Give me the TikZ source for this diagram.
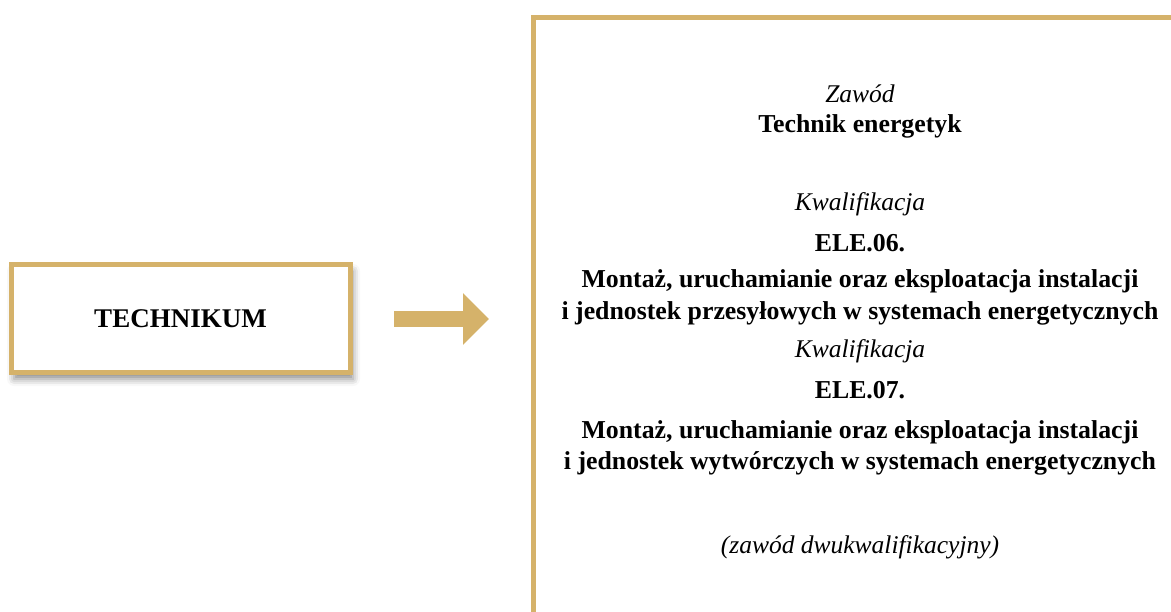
\documentclass[tikz,border=0pt]{standalone}
\usepackage{fontspec}
\setmainfont{Liberation Serif}
\usetikzlibrary{arrows.meta,shadows.blur}
\definecolor{gold}{RGB}{213,178,106}

\begin{document}
\begin{tikzpicture}[x=1pt,y=-1pt,
    ramka/.style={draw=gold,line width=5pt,fill=white,inner sep=0pt},
    kursywa/.style={font=\fontsize{25.5}{30}\selectfont\itshape,anchor=base},
    gruby/.style={font=\fontsize{25.8}{31}\selectfont\bfseries,anchor=base}]
        \useasboundingbox (0,0) rectangle (1171,612);
        \clip (0,0) rectangle (1171,612);

        \coordinate (t) at (180.5,319);
        \coordinate (p) at (533.5,17.5);
        \coordinate (a1) at (394,319);
        \coordinate (a2) at (489,319);

        \node[ramka,minimum width=339pt,minimum height=108pt,font=\fontsize{27}{32}\selectfont\bfseries,
              blur shadow={shadow xshift=3pt,shadow yshift=-6pt,shadow blur radius=7pt,shadow opacity=45}] (tech) at (t) {TECHNIKUM};
        \node[ramka,outer sep=0pt,anchor=north west,minimum width=700pt,minimum height=650pt] (info) at (p) {};

        \draw[gold,line width=16pt,-{Triangle[length=26pt,width=50pt]}] (a1) -- (a2);

        \node[kursywa] (zawod) at (860,103) {Zawód};
        \node[gruby] (technik) at (860,133) {Technik energetyk};
        \node[kursywa] (kwal6) at (860,211) {Kwalifikacja};
        \node[gruby] (ele6) at (860,252) {ELE.06.};
        \node[gruby] (montaz6) at (860,288) {Montaż, uruchamianie oraz eksploatacja instalacji};
        \node[gruby] (jedn6) at (860,319.5) {i jednostek przesyłowych w systemach energetycznych};
        \node[kursywa] (kwal7) at (860,358) {Kwalifikacja};
        \node[gruby] (ele7) at (860,399) {ELE.07.};
        \node[gruby] (montaz7) at (860,438.5) {Montaż, uruchamianie oraz eksploatacja instalacji};
        \node[gruby] (jedn7) at (860,470) {i jednostek wytwórczych w systemach energetycznych};
        \node[kursywa] (dwukw) at (860,553) {(zawód dwukwalifikacyjny)};
\end{tikzpicture}
\end{document}
